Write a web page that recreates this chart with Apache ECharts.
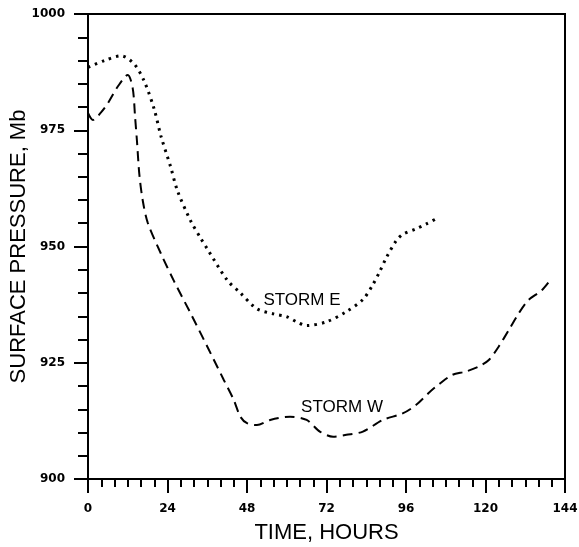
<!DOCTYPE html>
<html>
<head>
<meta charset="utf-8">
<script src="https://cdn.jsdelivr.net/npm/echarts@6/dist/echarts.min.js"></script>
<style>
  html, body { margin: 0; padding: 0; background: #fff; }
  #chart { width: 579px; height: 547px; }
</style>
</head>
<body>
<div id="chart"></div>
<script>
// storm E (dotted)
var hoursE = [0, 5, 10, 14, 17, 20, 22, 25, 27, 31, 34, 36, 42, 46, 51, 56, 60, 63, 66, 72, 78, 83, 86, 88, 90, 93, 95, 99, 102, 106];
var pressE = [988.5, 990, 991, 989.2, 985.5, 979.5, 973.8, 967, 962, 955.5, 951.8, 949.5, 942.8, 940, 936.6, 935.5, 934.9, 933.8, 933, 933.8, 936, 938.6, 941.8, 944.5, 947.5, 951.2, 952.6, 953.8, 954.8, 956.3];

// storm W (dashed)
var hoursW = [0, 1.5, 4, 6, 9, 12, 13.5, 14.2, 14.8, 15.5, 16.5, 18, 22, 26, 31, 36, 41, 44, 46, 48, 51, 55, 61, 66, 70, 74, 78, 83, 89, 95, 99, 103, 106, 110, 114, 118, 121, 124, 127, 130, 133, 137, 140];
var pressW = [978.7, 977.2, 978.9, 980.8, 984.4, 986.9, 984, 978, 972.5, 965.5, 960, 955.2, 948.5, 942.5, 935.6, 928.5, 921.3, 917, 913.4, 912, 911.6, 912.7, 913.4, 912.7, 910.2, 909.1, 909.5, 910.2, 912.7, 914.1, 915.9, 918.6, 920.4, 922.4, 923.1, 924.2, 925.6, 928.5, 932, 935.6, 938.5, 940.6, 943.2];

function pairs(xs, ys) {
    var out = [];
    for (var i = 0; i < xs.length; i++) {
        out.push([xs[i], ys[i]]);
    }
    return out;
}

var tickFont = { fontFamily: 'DejaVu Sans', fontWeight: 'bold', fontSize: 12, color: '#000' };
var titleFont = { fontFamily: 'Liberation Sans', fontSize: 22, color: '#000' };

var myChart = echarts.init(document.getElementById('chart'));
var option = {
    backgroundColor: '#fff',
    animation: false,
    grid: {
        left: 88, right: 14, top: 14, bottom: 68,
        containLabel: false,
        outerBoundsMode: 'none',
        show: true, borderColor: '#000', borderWidth: 2
    },
    xAxis: {
        type: 'value',
        min: 0, max: 144, interval: 24,
        name: 'TIME, HOURS',
        nameLocation: 'middle',
        nameGap: 43,
        nameMoveOverlap: false,
        nameTextStyle: titleFont,
        axisLine: { onZero: false, lineStyle: { color: '#000', width: 2 } },
        axisTick: { length: 14, lineStyle: { color: '#000', width: 2 } },
        minorTick: { show: true, splitNumber: 6, length: 8, lineStyle: { color: '#000', width: 2 } },
        axisLabel: Object.assign({ margin: 24, formatter: function (v) { return String(v); } }, tickFont),
        splitLine: { show: false }
    },
    yAxis: {
        type: 'value',
        min: 900, max: 1000, interval: 25,
        name: 'SURFACE PRESSURE, Mb',
        nameLocation: 'middle',
        nameGap: 58,
        nameMoveOverlap: false,
        nameTextStyle: titleFont,
        axisLine: { onZero: false, lineStyle: { color: '#000', width: 2 } },
        axisTick: { length: 14, lineStyle: { color: '#000', width: 2 } },
        minorTick: { show: true, splitNumber: 5, length: 10, lineStyle: { color: '#000', width: 2 } },
        axisLabel: Object.assign({ margin: 23, formatter: function (v) { return String(v); } }, tickFont),
        splitLine: { show: false }
    },
    graphic: [
        { type: 'text', x: 302, y: 300, style: { text: 'STORM E', fill: '#000', font: '17px "Liberation Sans"', align: 'center', verticalAlign: 'middle' } },
        { type: 'text', x: 342, y: 407, style: { text: 'STORM W', fill: '#000', font: '17px "Liberation Sans"', align: 'center', verticalAlign: 'middle' } }
    ],
    series: [
        {
            name: 'STORM E',
            type: 'line',
            smooth: 0.3,
            symbol: 'none',
            data: pairs(hoursE, pressE),
            lineStyle: { color: '#000', width: 3, type: [2.5, 5] }
        },
        {
            name: 'STORM W',
            type: 'line',
            smooth: 0.3,
            symbol: 'none',
            data: pairs(hoursW, pressW),
            lineStyle: { color: '#000', width: 2, type: [10, 6] }
        }
    ]
};
myChart.setOption(option);
</script>
</body>
</html>
